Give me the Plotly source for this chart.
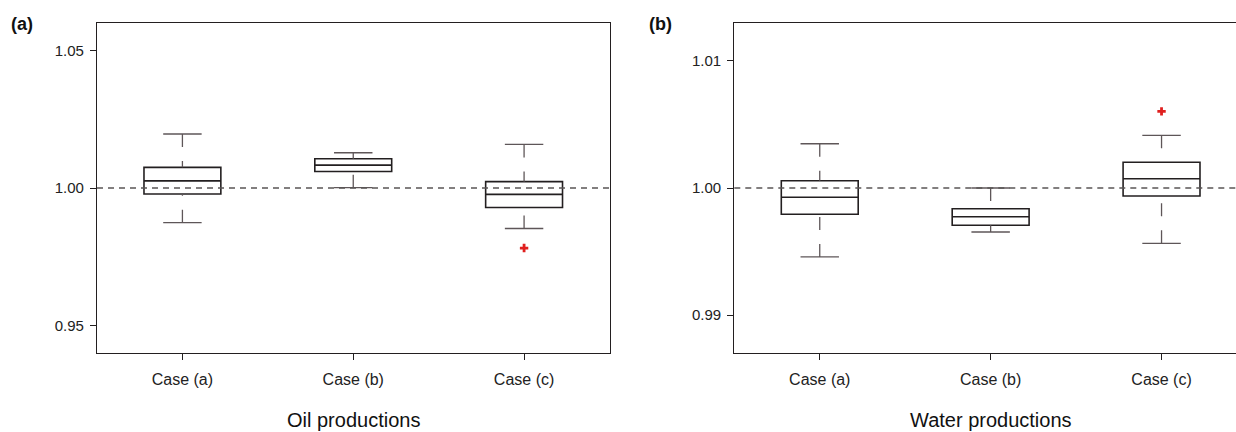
import plotly.graph_objects as go

# ---------------- data ----------------
categories = ["Case (a)", "Case (b)", "Case (c)"]
cat_pos = [0, 1, 2]

# (a) Oil productions
oil_lower = [0.9874, 1.0001, 0.9853]
oil_q1 = [0.9978, 1.0060, 0.9929]
oil_median = [1.0026, 1.0083, 0.9977]
oil_q3 = [1.0075, 1.0106, 1.0023]
oil_upper = [1.0196, 1.0128, 1.0158]
oil_outlier_x = [2]
oil_outlier_y = [0.9782]

# (b) Water productions
water_lower = [0.99458, 0.99654, 0.99565]
water_q1 = [0.99793, 0.99707, 0.99937]
water_median = [0.99927, 0.99774, 1.00073]
water_q3 = [1.00057, 0.99837, 1.00202]
water_upper = [1.00348, 1.00000, 1.00414]
water_outlier_x = [2]
water_outlier_y = [1.00603]

oil_ticks = [0.95, 1.00, 1.05]
water_ticks = [0.99, 1.00, 1.01]

# ---------------- style ----------------
BOX_COLOR = "#231f20"
WHISK_COLOR = "#5e5658"
REF_COLOR = "#5a5556"
OUT_COLOR = "#e0201f"
FONT = "Liberation Sans, Arial, sans-serif"
BOX_W = 0.45
CAP_HALF = 0.1125
W, H = 1236, 432

fig = go.Figure()


def add_panel(xa, ya, lower, q1, med, q3, upper, ox, oy):
    fig.add_trace(go.Box(
        x=cat_pos, q1=q1, median=med, q3=q3, lowerfence=q1, upperfence=q3,
        width=BOX_W, fillcolor="rgba(0,0,0,0)",
        line=dict(color=BOX_COLOR, width=1.6), boxpoints=False,
        xaxis=xa, yaxis=ya, showlegend=False, hoverinfo="skip"))
    # dashed whiskers (drawn from cap toward box)
    wx, wy = [], []
    for p, lo, a, b, hi in zip(cat_pos, lower, q1, q3, upper):
        wx += [p, p, None, p, p, None]
        wy += [hi, b, None, lo, a, None]
    fig.add_trace(go.Scatter(
        x=wx, y=wy, mode="lines", xaxis=xa, yaxis=ya, showlegend=False,
        line=dict(color=WHISK_COLOR, width=1.3, dash="13px,14px"),
        hoverinfo="skip"))
    # caps
    cx, cy = [], []
    for p, lo, hi in zip(cat_pos, lower, upper):
        cx += [p - CAP_HALF, p + CAP_HALF, None, p - CAP_HALF, p + CAP_HALF, None]
        cy += [hi, hi, None, lo, lo, None]
    fig.add_trace(go.Scatter(
        x=cx, y=cy, mode="lines", xaxis=xa, yaxis=ya, showlegend=False,
        line=dict(color=WHISK_COLOR, width=1.3), hoverinfo="skip"))
    # outliers
    fig.add_trace(go.Scatter(
        x=ox, y=oy, mode="markers", xaxis=xa, yaxis=ya, showlegend=False,
        marker=dict(symbol="cross", size=7, color=OUT_COLOR,
                    line=dict(width=0)), hoverinfo="skip"))


add_panel("x", "y", oil_lower, oil_q1, oil_median, oil_q3, oil_upper,
          oil_outlier_x, oil_outlier_y)
add_panel("x2", "y2", water_lower, water_q1, water_median, water_q3,
          water_upper, water_outlier_x, water_outlier_y)

# reference line at 1.0
for xr, yr in (("x domain", "y"), ("x2 domain", "y2")):
    fig.add_shape(type="line", xref=xr, yref=yr, x0=0, x1=1, y0=1.0, y1=1.0,
                  line=dict(color=REF_COLOR, width=1.4, dash="6px,5px"),
                  layer="above")

ydom = [1 - 353.3 / H, 1 - 22.7 / H]
line_common = dict(showgrid=False, zeroline=False, showline=True,
                   linecolor=BOX_COLOR, linewidth=1.3, ticks="outside",
                   ticklen=6, tickwidth=1, tickcolor=BOX_COLOR)
xfont = dict(family=FONT, size=16, color="#222")
yfont = dict(family=FONT, size=15, color="#222")

fig.update_layout(
    width=W, height=H,
    margin=dict(l=0, r=0, t=0, b=0),
    paper_bgcolor="white", plot_bgcolor="white",
    xaxis=dict(domain=[97 / W, 609.5 / W], range=[-0.5, 2.5],
               tickvals=cat_pos, ticktext=categories, mirror=True,
               anchor="y", tickfont=xfont, ticklabelstandoff=5, **line_common),
    yaxis=dict(domain=ydom, range=[0.94, 1.06], tickvals=oil_ticks,
               ticktext=["%.2f" % v for v in oil_ticks], mirror=True,
               anchor="x", tickfont=yfont, ticklabelstandoff=3, **line_common),
    xaxis2=dict(domain=[734.3 / W, 1.0], range=[-0.5, 2.4357],
                tickvals=cat_pos, ticktext=categories, mirror=True,
                anchor="y2", tickfont=xfont, ticklabelstandoff=5, **line_common),
    yaxis2=dict(domain=ydom, range=[0.987, 1.013], tickvals=water_ticks,
                ticktext=["%.2f" % v for v in water_ticks], mirror=False,
                anchor="x2", tickfont=yfont, ticklabelstandoff=3, **line_common),
    annotations=[
        dict(text="<b>(a)</b>", x=22 / W, y=1 - 24 / H, xref="paper",
             yref="paper", showarrow=False, xanchor="center", yanchor="middle",
             font=dict(family=FONT, size=18, color="#111")),
        dict(text="<b>(b)</b>", x=660 / W, y=1 - 24 / H, xref="paper",
             yref="paper", showarrow=False, xanchor="center", yanchor="middle",
             font=dict(family=FONT, size=18, color="#111")),
        dict(text="Oil productions", x=353 / W, y=1 - 420 / H,
             xref="paper", yref="paper", showarrow=False, xanchor="center",
             yanchor="middle", font=dict(family=FONT, size=20, color="#111")),
        dict(text="Water productions", x=991 / W, y=1 - 420 / H,
             xref="paper", yref="paper", showarrow=False, xanchor="center",
             yanchor="middle", font=dict(family=FONT, size=20, color="#111")),
    ],
)

# remove the page's default body margin so the figure fills the window
fig.write_html(
    "out.html",
    config={"displayModeBar": False},
    post_script="document.body.style.margin='0';"
                "document.body.style.overflow='hidden';",
)
